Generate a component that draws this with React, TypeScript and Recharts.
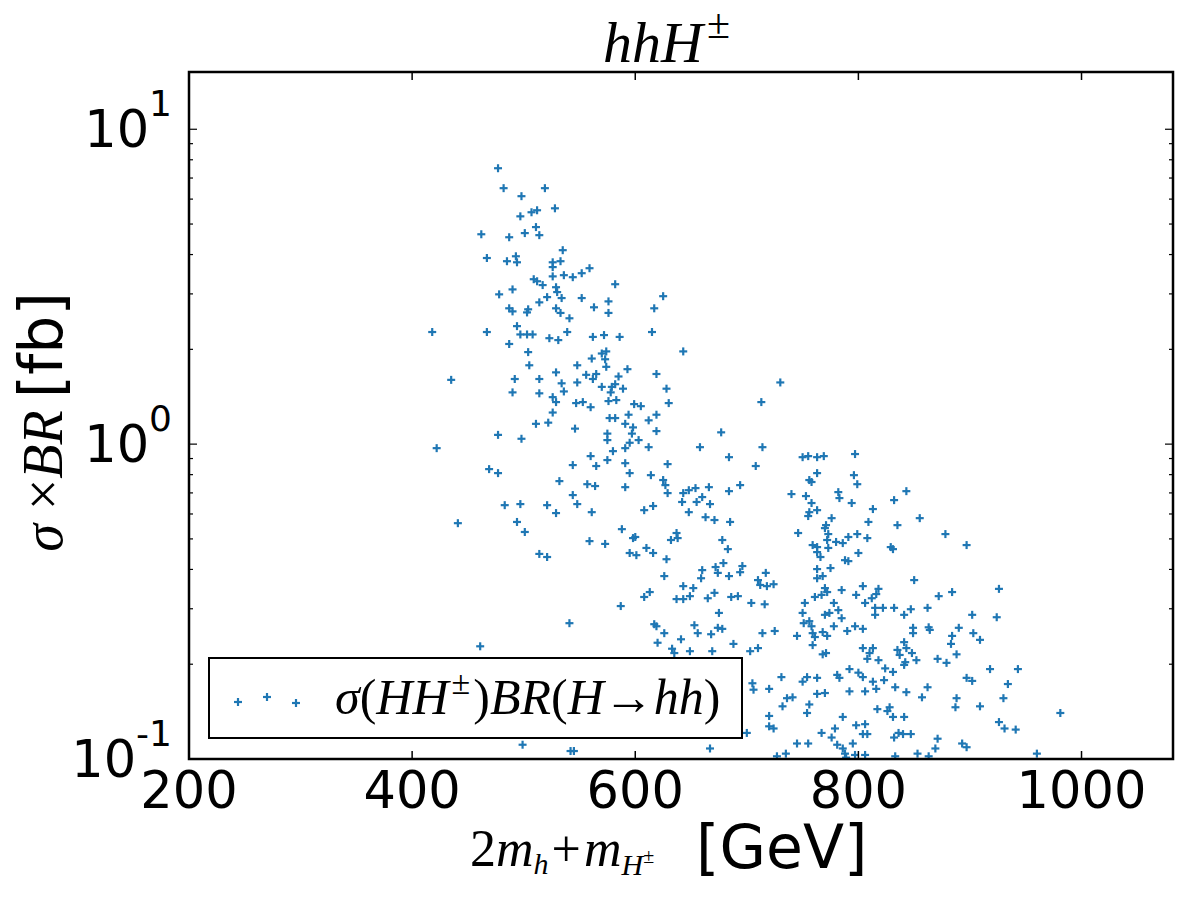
import React from 'react';
import { ScatterChart, Scatter, XAxis, YAxis } from 'recharts';

// scan points: [2m_h + m_H± in GeV, sigma x BR in fb]
const lightPoints: [number, number][] = [
  [477, 7.52], [482, 6.5], [519, 6.5], [498, 6.13], [528, 5.61], [512, 5.53], [507, 5.45], [497, 5.29],
  [511, 4.89], [462, 4.64], [487, 4.54], [501, 4.68], [514, 4.61], [535, 4.13], [467, 3.9], [493, 3.95],
  [485, 3.81], [494, 3.78], [526, 3.78], [533, 3.81], [526, 3.65], [559, 3.62], [552, 3.49], [544, 3.39],
  [536, 3.44], [526, 3.41], [509, 3.34], [512, 3.29], [517, 3.2], [529, 3.15], [530, 3.04], [582, 3.22],
  [478, 2.99], [490, 3.1], [521, 2.93], [534, 2.91], [552, 2.91], [514, 2.82], [576, 2.84], [563, 2.72],
  [576, 2.61], [487, 2.7], [490, 2.64], [504, 2.68], [503, 2.62], [529, 2.7], [533, 2.61], [541, 2.51],
  [418, 2.27], [467, 2.27], [494, 2.37], [497, 2.23], [503, 2.23], [508, 2.23], [523, 2.17], [531, 2.14],
  [539, 2.27], [562, 2.19], [572, 2.22], [586, 2.19], [487, 2.08], [504, 1.96], [561, 1.87], [570, 1.94],
  [574, 1.97], [505, 1.78], [573, 1.86], [574, 1.76], [548, 1.78], [593, 1.73], [435, 1.6], [492, 1.61],
  [514, 1.61], [529, 1.69], [556, 1.66], [562, 1.61], [565, 1.67], [585, 1.64], [548, 1.57], [534, 1.56],
  [490, 1.46], [514, 1.45], [536, 1.47], [570, 1.52], [579, 1.52], [582, 1.55], [589, 1.5], [578, 1.46],
  [526, 1.41], [529, 1.36], [547, 1.35], [553, 1.36], [560, 1.31], [576, 1.37], [583, 1.38], [599, 1.34],
  [526, 1.26], [511, 1.16], [522, 1.17], [546, 1.12], [577, 1.21], [582, 1.21], [594, 1.24], [591, 1.16],
  [598, 1.13], [597, 1.08], [575, 1.08], [575, 1.03], [603, 1.03], [595, 1.01], [477, 1.07], [498, 1.04],
  [422, 0.971], [580, 0.95], [591, 0.971], [560, 0.916], [575, 0.89], [544, 0.858], [565, 0.852],
  [591, 0.87], [595, 0.809], [469, 0.833], [477, 0.809], [532, 0.763], [557, 0.746], [564, 0.736],
  [591, 0.73], [544, 0.689], [548, 0.645], [483, 0.64], [497, 0.645], [521, 0.64], [529, 0.604],
  [561, 0.608], [441, 0.561], [494, 0.566], [501, 0.526], [588, 0.537], [598, 0.503], [600, 0.507],
  [559, 0.492], [573, 0.482], [514, 0.448], [521, 0.438], [595, 0.451], [601, 0.444], [587, 0.306],
  [541, 0.27], [461, 0.228], [499, 0.111], [542, 0.106], [545, 0.106],
];

const middlePoints: [number, number][] = [
  [625, 2.95], [617, 2.7], [615, 2.27], [643, 1.97], [619, 1.67], [628, 1.5], [630, 1.35], [605, 1.32],
  [619, 1.24], [612, 1.19], [619, 1.1], [612, 0.978], [658, 0.978], [677, 1.09], [684, 0.909], [714, 0.978],
  [713, 1.36], [730, 1.57], [629, 0.864], [708, 0.852], [750, 0.909], [755, 0.916], [763, 0.909],
  [769, 0.916], [614, 0.797], [625, 0.769], [627, 0.741], [629, 0.699], [643, 0.699], [648, 0.714],
  [654, 0.725], [666, 0.73], [660, 0.679], [655, 0.655], [642, 0.655], [667, 0.645], [684, 0.709],
  [694, 0.741], [608, 0.617], [616, 0.636], [648, 0.608], [663, 0.586], [671, 0.574], [685, 0.566],
  [637, 0.522], [632, 0.496], [638, 0.503], [678, 0.496], [683, 0.464], [610, 0.468], [616, 0.451],
  [628, 0.431], [626, 0.381], [660, 0.398], [659, 0.375], [672, 0.407], [674, 0.39], [679, 0.419],
  [684, 0.381], [694, 0.392], [696, 0.41], [717, 0.39], [710, 0.37], [712, 0.357], [718, 0.354],
  [724, 0.359], [643, 0.354], [652, 0.349], [613, 0.339], [608, 0.327], [637, 0.322], [643, 0.322],
  [649, 0.329], [665, 0.324], [671, 0.337], [686, 0.327], [692, 0.329], [704, 0.313], [716, 0.31],
  [763, 0.809], [756, 0.769], [758, 0.758], [753, 0.684], [740, 0.694], [758, 0.65], [763, 0.617],
  [756, 0.608], [755, 0.591], [782, 0.704], [783, 0.674], [796, 0.797], [799, 0.746], [794, 0.65],
  [776, 0.582], [771, 0.553], [770, 0.541], [773, 0.518], [746, 0.522], [772, 0.496], [780, 0.489],
  [786, 0.485], [759, 0.478], [763, 0.471], [763, 0.454], [773, 0.468], [766, 0.438], [791, 0.507],
  [799, 0.518], [800, 0.451], [788, 0.428], [791, 0.425], [763, 0.401], [775, 0.404], [763, 0.375],
  [768, 0.381], [770, 0.349], [772, 0.339], [761, 0.327], [767, 0.332], [785, 0.344], [798, 0.332],
  [752, 0.313], [778, 0.313], [797, 0.93],
  [675, 0.291], [617, 0.268], [619, 0.264], [626, 0.251], [620, 0.234], [641, 0.24], [633, 0.224],
  [635, 0.217], [649, 0.22], [653, 0.266], [656, 0.251], [668, 0.249], [674, 0.261], [678, 0.259],
  [669, 0.22], [688, 0.232], [703, 0.22], [710, 0.225], [714, 0.251], [725, 0.255], [745, 0.246],
  [750, 0.291], [751, 0.27], [756, 0.274], [758, 0.264], [759, 0.251], [761, 0.244], [759, 0.23],
  [768, 0.253], [772, 0.246], [770, 0.287], [774, 0.291], [782, 0.297], [785, 0.28], [778, 0.264],
  [790, 0.255], [797, 0.264], [768, 0.215], [771, 0.217], [705, 0.174], [706, 0.166], [720, 0.167],
  [731, 0.182], [736, 0.156], [741, 0.157], [732, 0.147], [750, 0.176], [754, 0.182], [763, 0.181],
  [756, 0.149], [754, 0.14], [763, 0.161], [770, 0.162], [781, 0.185], [783, 0.181], [792, 0.193],
  [800, 0.188], [792, 0.164], [786, 0.136], [720, 0.137], [720, 0.127], [724, 0.125], [700, 0.121],
  [767, 0.121], [776, 0.117], [779, 0.125], [798, 0.128], [745, 0.112], [755, 0.112], [781, 0.111],
  [786, 0.108], [795, 0.112], [667, 0.108], [727, 0.102], [735, 0.104], [788, 0.104], [789, 0.101],
];

const heavyPoints: [number, number][] = [
  [843, 0.709], [832, 0.664], [813, 0.622], [855, 0.582], [809, 0.566], [835, 0.553], [878, 0.518],
  [808, 0.503], [897, 0.478], [829, 0.471], [831, 0.464], [850, 0.37], [804, 0.354], [818, 0.347],
  [816, 0.334], [812, 0.324], [806, 0.313], [872, 0.329], [884, 0.339], [926, 0.347], [815, 0.302],
  [822, 0.302], [832, 0.302], [847, 0.299], [862, 0.302], [815, 0.287], [841, 0.287], [902, 0.287],
  [924, 0.282], [804, 0.259], [849, 0.261], [849, 0.251], [863, 0.262], [864, 0.257], [890, 0.261],
  [884, 0.246], [903, 0.251], [909, 0.239], [883, 0.232], [841, 0.235], [804, 0.225], [813, 0.225],
  [810, 0.217], [835, 0.222], [843, 0.225], [837, 0.214], [848, 0.217], [888, 0.215], [808, 0.208],
  [818, 0.206], [842, 0.203], [841, 0.199], [852, 0.206], [871, 0.208], [879, 0.202], [824, 0.194],
  [831, 0.189], [804, 0.182], [813, 0.176], [823, 0.178], [806, 0.164], [816, 0.167], [833, 0.169],
  [843, 0.163], [862, 0.169], [857, 0.157], [897, 0.181], [902, 0.177], [918, 0.193], [943, 0.193],
  [934, 0.173], [930, 0.156], [888, 0.156], [887, 0.146], [909, 0.147], [817, 0.144], [828, 0.146],
  [826, 0.142], [831, 0.136], [841, 0.136], [981, 0.14], [804, 0.12], [808, 0.12], [836, 0.121],
  [840, 0.12], [847, 0.12], [832, 0.117], [871, 0.116], [869, 0.108], [893, 0.112], [897, 0.109],
  [926, 0.131], [931, 0.125], [941, 0.124], [797, 0.103], [806, 0.103], [833, 0.102], [853, 0.104],
  [863, 0.102], [960, 0.104], [806, 0.129],
];

const massTicks = [200, 400, 600, 800, 1000];
const xsecTicks = [
  0.1, 0.2, 0.3, 0.4, 0.5, 0.6, 0.7, 0.8, 0.9,
  1, 2, 3, 4, 5, 6, 7, 8, 9, 10,
];
const massDomain: [number, number] = [200, 1082];
const xsecDomain: [number, number] = [0.1, 15.2];

const W = 1200;
const H = 900;
const PLOT = { left: 189, top: 72, right: 1173, bottom: 759 };
const Y_AXIS_W = 60;
const X_AXIS_H = 30;
const BLUE = '#1f77b4';
const SANS = '"DejaVu Sans", sans-serif';
const SERIF = '"Liberation Serif", "DejaVu Serif", serif';

const points = [...lightPoints, ...middlePoints, ...heavyPoints].map(([mass, xsec]) => ({ mass, xsec }));

const Plus = ({ cx, cy, r = 4 }: { cx: number; cy: number; r?: number }) => (
  <g stroke={BLUE} strokeWidth={2.2}>
    <line x1={cx - r} x2={cx + r} y1={cy} y2={cy} />
    <line x1={cx} x2={cx} y1={cy - r} y2={cy + r} />
  </g>
);

// ticks point inwards on both the bottom and top spines
const MassTick = (props: any) => {
  const { x, payload } = props;
  return (
    <g>
      <line x1={x} x2={x} y1={PLOT.bottom} y2={PLOT.bottom - 8} stroke="#000" strokeWidth={1.5} />
      <line x1={x} x2={x} y1={PLOT.top} y2={PLOT.top + 8} stroke="#000" strokeWidth={1.5} />
      <text x={x} y={PLOT.bottom + 49} textAnchor="middle" fontSize={51} fontFamily={SANS} fill="#000">
        {payload.value}
      </text>
    </g>
  );
};

// log axis: decades get a label and a long tick, the rest short ticks
const XsecTick = (props: any) => {
  const { y, payload } = props;
  const lg = Math.log10(payload.value);
  const exp = Math.round(lg);
  const major = Math.abs(lg - exp) < 1e-6;
  const len = major ? 8 : 4;
  return (
    <g>
      <line x1={PLOT.left} x2={PLOT.left + len} y1={y} y2={y} stroke="#000" strokeWidth={1.2} />
      <line x1={PLOT.right} x2={PLOT.right - len} y1={y} y2={y} stroke="#000" strokeWidth={1.2} />
      {major && (
        <text x={172} y={y + 18} textAnchor="end" fontSize={51} fontFamily={SANS} fill="#000">
          10<tspan fontSize={36} dy={-31}>{String(exp)}</tspan>
        </text>
      )}
    </g>
  );
};

export default function App() {
  return (
    <div style={{ position: 'absolute', left: 0, top: 0, width: W, height: H, background: '#fff' }}>
      <ScatterChart
        width={W}
        height={H}
        margin={{
          top: PLOT.top,
          left: PLOT.left - Y_AXIS_W,
          right: W - PLOT.right,
          bottom: H - PLOT.bottom - X_AXIS_H,
        }}
      >
        <XAxis
          type="number"
          dataKey="mass"
          domain={massDomain}
          ticks={massTicks}
          allowDataOverflow
          height={X_AXIS_H}
          axisLine={false}
          tickLine={false}
          interval={0}
          tick={MassTick}
        />
        <YAxis
          type="number"
          dataKey="xsec"
          scale="log"
          domain={xsecDomain}
          ticks={xsecTicks}
          allowDataOverflow
          width={Y_AXIS_W}
          axisLine={false}
          tickLine={false}
          interval={0}
          tick={XsecTick}
        />
        <Scatter
          data={points}
          isAnimationActive={false}
          shape={(p: any) => <Plus cx={p.cx} cy={p.cy} />}
        />
      </ScatterChart>

      <svg width={W} height={H} style={{ position: 'absolute', left: 0, top: 0, pointerEvents: 'none' }}>
        <rect
          x={PLOT.left}
          y={PLOT.top}
          width={PLOT.right - PLOT.left}
          height={PLOT.bottom - PLOT.top}
          fill="none"
          stroke="#000"
          strokeWidth={2.5}
        />
        <text x={603} y={62} fontSize={58} fontFamily={SERIF} fill="#000">
          <tspan fontStyle="italic">hhH</tspan>
          <tspan fontSize={42} dy={-24} dx={4}>±</tspan>
        </text>
        <text x={470} y={866} fontSize={52} fontFamily={SERIF} fill="#000">
          2<tspan fontStyle="italic">m</tspan>
          <tspan fontSize={30} fontStyle="italic" dy={8}>h</tspan>
          <tspan dy={-8} dx={3}>+</tspan>
          <tspan fontStyle="italic" dx={3}>m</tspan>
          <tspan fontSize={30} fontStyle="italic" dy={9}>H</tspan>
          <tspan fontSize={20} dy={-12}>±</tspan>
          <tspan fontFamily={SANS} fontSize={60} dy={5} dx={42}>[GeV]</tspan>
        </text>
        <text
          x={62}
          y={422}
          transform="rotate(-90 62 422)"
          textAnchor="middle"
          fontSize={56}
          fontFamily={SERIF}
          fill="#000"
        >
          <tspan fontStyle="italic">σ</tspan>
          <tspan> ×</tspan>
          <tspan fontStyle="italic">BR</tspan>
          <tspan fontFamily={SANS} fontSize={60} dx={12}>[fb]</tspan>
        </text>
      </svg>

      <div
        style={{
          position: 'absolute',
          left: 208,
          top: 657,
          width: 535,
          height: 82,
          boxSizing: 'border-box',
          border: '2.5px solid #000',
          background: '#fff',
        }}
      >
        <svg width={530} height={77} style={{ position: 'absolute', left: 0, top: 0 }}>
          <Plus cx={28} cy={43} />
          <Plus cx={57} cy={38} />
          <Plus cx={86} cy={44} />
          <text x={125} y={55} fontSize={50} fontFamily={SERIF} fill="#000">
            <tspan fontStyle="italic">σ</tspan>(<tspan fontStyle="italic">HH</tspan>
            <tspan fontSize={34} dy={-20} dx={3}>±</tspan>
            <tspan dy={20} dx={3}>)</tspan>
            <tspan fontStyle="italic">BR</tspan>(<tspan fontStyle="italic">H</tspan>→<tspan fontStyle="italic">hh</tspan>)
          </text>
        </svg>
      </div>
    </div>
  );
}
